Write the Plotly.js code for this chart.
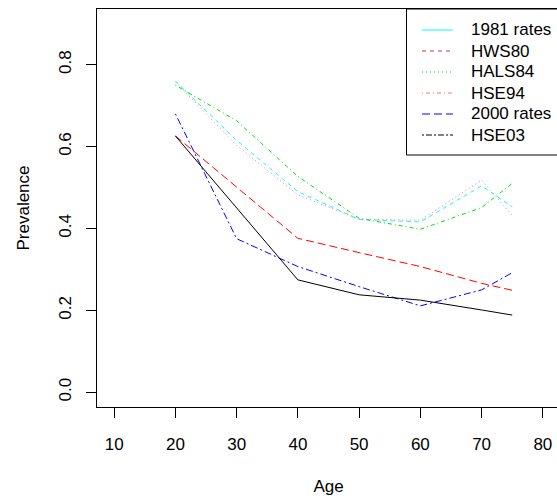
<!DOCTYPE html>
<html>
<head>
<meta charset="utf-8">
<script src="https://cdn.plot.ly/plotly-3.0.1.min.js"></script>
<style>
html,body{margin:0;padding:0;overflow:hidden;background:#fff;}
#chart{width:560px;height:496px;}
</style>
</head>
<body>
<div id="chart"></div>
<script>
// ---- data ----
var ages = [20, 30, 40, 50, 60, 70, 75];
var rates1981 = [0.760, 0.615, 0.490, 0.422, 0.416, 0.504, 0.453];
var hws80 = [0.626, 0.500, 0.376, 0.341, 0.307, 0.266, 0.249];
var hals84 = [0.750, 0.663, 0.527, 0.425, 0.398, 0.451, 0.510];
var hse94 = [0.758, 0.603, 0.482, 0.423, 0.420, 0.518, 0.432];
var rates2000 = [0.680, 0.375, 0.307, 0.258, 0.211, 0.250, 0.292];
var hse03 = [0.626, 0.450, 0.2745, 0.238, 0.225, 0.201, 0.1885];
var seriesNames = ["1981 rates", "HWS80", "HALS84", "HSE94", "2000 rates", "HSE03"];
var xTicks = [10, 20, 30, 40, 50, 60, 70, 80];
var yTicks = [0.0, 0.2, 0.4, 0.6, 0.8];

// ---- styles ----
var seriesData = [rates1981, hws80, hals84, hse94, rates2000, hse03];
var plotColors = ["#00ffff", "#ff0000", "#00e000", "#f07878", "#0000ff", "#000000"];
var plotDashes = ["4px,4px", "8px,4px", "1px,3px,4px,3px", "1px,3px", "2px,3px,7px,3px", "solid"];
var legendDashes = ["solid", "4px,4px", "1px,3px", "1px,3px,4px,3px", "8px,4px", "2px,2px,6px,2px"];
var legendColors = ["#00ffff", "#e03030", "#00e000", "#f07878", "#0000ff", "#000000"];

var traces = seriesData.map(function (ys, i) {
  return {
    x: ages, y: ys, type: "scatter", mode: "lines", name: seriesNames[i],
    showlegend: false,
    line: {color: plotColors[i], width: 1, dash: plotDashes[i]}
  };
});

// manual R-style legend (box, line samples, labels)
var plotTop = 9, plotBottom = 407, plotLeft = 97, plotW = 463;
function py(p) { return (plotBottom - p) / (plotBottom - plotTop); }
function px(p) { return (p - plotLeft) / plotW; }
var shapes = [{
  type: "rect", xref: "paper", yref: "paper",
  x0: px(406.5), x1: 1.0, y0: py(155), y1: 1.0,
  line: {color: "#000", width: 1}, fillcolor: "rgba(255,255,255,1)", layer: "above"
}];
var annotations = [];
seriesNames.forEach(function (nm, i) {
  var rowY = py(30 + 21 * i);
  shapes.push({
    type: "line", xref: "paper", yref: "paper",
    x0: px(422), x1: px(453), y0: rowY, y1: rowY,
    line: {color: legendColors[i], width: 1, dash: legendDashes[i]}, layer: "above"
  });
  annotations.push({
    xref: "paper", yref: "paper", x: px(469), y: rowY,
    xanchor: "left", yanchor: "middle", showarrow: false, text: nm,
    font: {family: "Liberation Sans, Arial, sans-serif", size: 17, color: "#000"}
  });
});

var axisFont = {family: "Liberation Sans, Arial, sans-serif", size: 17, color: "#000"};
var layout = {
  width: 560, height: 496,
  margin: {l: 97, r: 0, t: 9, b: 89, pad: 0},
  paper_bgcolor: "#fff", plot_bgcolor: "#fff",
  showlegend: false,
  font: axisFont,
  xaxis: {
    range: [7.2, 82.8], tickvals: xTicks, ticktext: xTicks.map(String),
    showgrid: false, zeroline: false,
    showline: true, mirror: true, linecolor: "#000", linewidth: 1,
    ticks: "outside", ticklen: 10, tickwidth: 1, tickcolor: "#000",
    tickfont: axisFont, ticklabelstandoff: 12,
    title: {text: "Age", font: axisFont, standoff: 26}
  },
  yaxis: {
    range: [-0.036, 0.936], tickvals: yTicks, ticktext: yTicks.map(function (v) { return v.toFixed(1); }),
    showgrid: false, zeroline: false,
    showline: true, mirror: true, linecolor: "#000", linewidth: 1,
    ticks: "outside", ticklen: 10, tickwidth: 1, tickcolor: "#000",
    tickangle: -90, tickfont: axisFont, ticklabelstandoff: 8,
    title: {text: "Prevalence", font: axisFont, standoff: 22}
  },
  shapes: shapes,
  annotations: annotations
};

Plotly.newPlot("chart", traces, layout, {staticPlot: true, displayModeBar: false});
</script>
</body>
</html>
